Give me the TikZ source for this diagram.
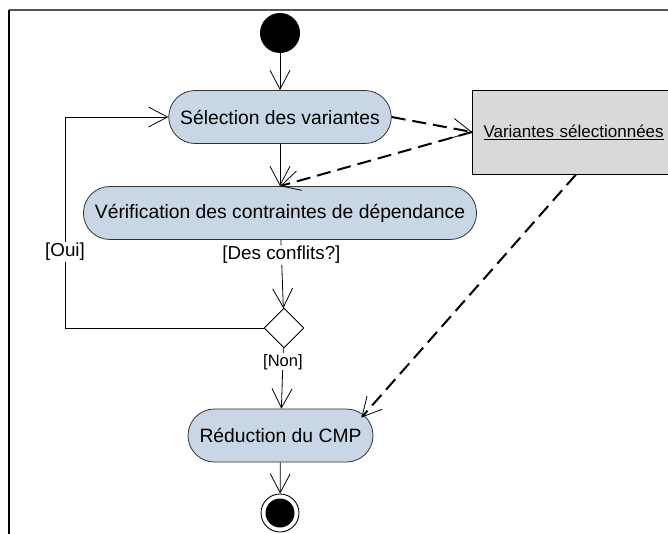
\documentclass[tikz,border=0pt]{standalone}
\usepackage{fontspec}
\setmainfont{Liberation Sans}
\usetikzlibrary{arrows.meta,positioning,shapes.geometric}
\definecolor{actfill}{RGB}{201,214,229}
\definecolor{objfill}{RGB}{217,217,217}
\definecolor{framegray}{RGB}{85,85,85}
\tikzset{
      actbox/.style={
        rounded corners=26.5pt,
        draw=black!80,
        line width=0.8pt,
        fill=actfill,
        minimum height=53pt,
        inner xsep=11.5pt,
        font=\fontsize{19.3}{23}\selectfont
      },
      objbox/.style={
        draw=black,
        line width=1pt,
        fill=objfill,
        minimum width=215pt,
        minimum height=84pt,
        text width=193pt,
        inner xsep=11pt,
        align=left,
        font=\fontsize{17}{20}\selectfont
      },
      startnode/.style={circle, fill=black, minimum size=40pt, inner sep=0pt},
      endnode/.style={
        circle, draw=black, line width=0.9pt, fill=white,
        minimum size=38pt, inner sep=0pt,
        path picture={\fill[black] (path picture bounding box.center) circle (14.5pt);}
      },
      decnode/.style={diamond, draw=black, line width=0.9pt, fill=white,
        minimum width=40pt, minimum height=40pt, inner sep=0pt},
      guard/.style={fill=white, inner sep=1pt, font=\fontsize{18.8}{22}\selectfont},
      flow/.style={line width=0.8pt, -{Straight Barb[length=19pt,width=20pt]}},
      objflow/.style={line width=2pt, dash pattern=on 14pt off 7pt,
        -{Straight Barb[length=19pt,width=20pt,line width=0.8pt]}}
    }
\begin{document}
\begin{tikzpicture}[x=1pt,y=-1pt]
    \useasboundingbox (0,0) rectangle (668,533);
    \draw[framegray, line width=2pt] (9,10) -- (672,10);
    \draw[line width=1.3pt] (9,10) -- (9,537);
    \node[startnode] (init) at (280,33) {};
    \node[actbox] (sel) at (280,117) {Sélection des variantes};
    \node[actbox] (ver) at (280,213) {Vérification des contraintes de dépendance};
    \node[decnode] (dec) at (284,328) {};
    \node[actbox] (red) at (280.5,435.5) {Réduction du CMP};
    \node[endnode] (fin) at (280,513) {};
    \node[objbox, anchor=west] (var) at (472,132) {\underline{Variantes sélectionnées}};
    \coordinate (loopb) at (65,328);
    \coordinate (loopt) at (65,117);
    \draw[flow] (init) -- (sel);
    \draw[flow] (sel) -- (ver);
    \draw[flow] (ver) -- node[guard, pos=0.22] {[Des conflits?]} (dec);
    \draw[flow] (dec) -- node[guard, pos=0.23, font=\fontsize{16.5}{20}\selectfont] {[Non]} (red);
    \draw[flow] (red) -- (fin);
    \draw[flow] (dec.west) -- (loopb) -- node[guard, pos=0.36] {[Oui]} (loopt) -- (sel.west);
    \draw[objflow] (sel.east) -- (var.west);
    \draw[objflow] (var.west) -- (ver.north);
    \draw[objflow] ([xshift=-4pt]var.south) -- ([xshift=-12pt,yshift=-9pt]red.north east);
    \end{tikzpicture}
\end{document}
